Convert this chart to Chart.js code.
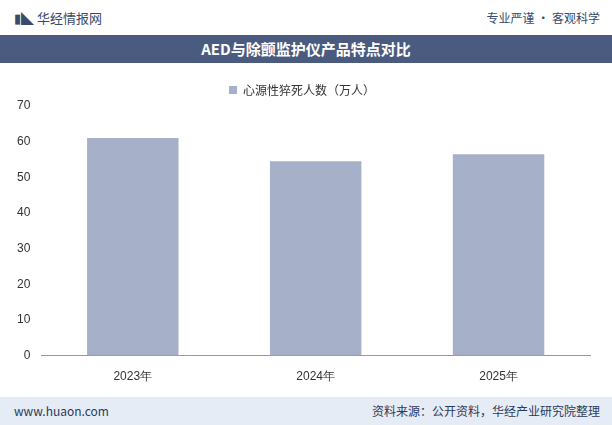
<!DOCTYPE html>
<html>
<head>
<meta charset="utf-8">
<script src="https://cdn.jsdelivr.net/npm/chart.js@4"></script>
<style>
  body { margin: 0; width: 612px; height: 425px; background: #fff; font-family: "Noto Sans CJK SC", sans-serif; overflow: hidden; position: relative; }
  #top { position: absolute; left: 0; top: 0; width: 612px; height: 34px; }
  #logo { position: absolute; left: 14px; top: 8px; font-size: 13px; color: #3a4a6b; }
  #slogan { position: absolute; right: 12px; top: 9px; font-size: 12px; color: #3a4a6b; }
  #title { position: absolute; left: 0; top: 35px; width: 612px; height: 28px; background: #4b5b7f; color: #fff; font-weight: bold; font-size: 15px; text-align: center; line-height: 28px; }
  #box { position: absolute; left: 0; top: 70px; width: 612px; height: 320px; }
  #foot { position: absolute; left: 0; top: 397px; width: 612px; height: 28px; background: #e6ecf5; font-size: 12px; color: #2a3a5b; }
  #foot .l { position: absolute; left: 14px; top: 5px; }
  #foot .r { position: absolute; right: 12px; top: 5px; }
</style>
</head>
<body>
<div id="top"><div id="logo">▮◣ 华经情报网</div><div id="slogan">专业严谨 • 客观科学</div></div>
<div id="title">AED与除颤监护仪产品特点对比</div>
<div id="box"><canvas id="chart" width="612" height="320"></canvas></div>
<div id="foot"><span class="l">www.huaon.com</span><span class="r">资料来源：公开资料，华经产业研究院整理</span></div>
<script>
const years = ['2023年', '2024年', '2025年'];
const deaths = [61, 54.5, 56.5];
const seriesName = '心源性猝死人数（万人）';

new Chart(document.getElementById('chart'), {
  type: 'bar',
  data: {
    labels: years,
    datasets: [{
      label: seriesName,
      data: deaths,
      backgroundColor: '#a6b0c9',
      barPercentage: 0.5,
      categoryPercentage: 1
    }]
  },
  options: {
    responsive: false,
    animation: false,
    layout: { padding: { left: 14, right: 22, top: 0, bottom: 0 } },
    plugins: {
      legend: {
        labels: { boxWidth: 8, boxHeight: 8, padding: 14, color: '#333', font: { size: 12, family: 'Noto Sans CJK SC' } }
      }
    },
    scales: {
      x: {
        grid: { display: false },
        border: { color: '#999' },
        ticks: { color: '#333', padding: 6, font: { size: 12 } }
      },
      y: {
        min: 0, max: 70,
        ticks: { stepSize: 10, color: '#333', font: { size: 12 } },
        grid: { display: false },
        border: { display: false }
      }
    }
  }
});
</script>
</body>
</html>
